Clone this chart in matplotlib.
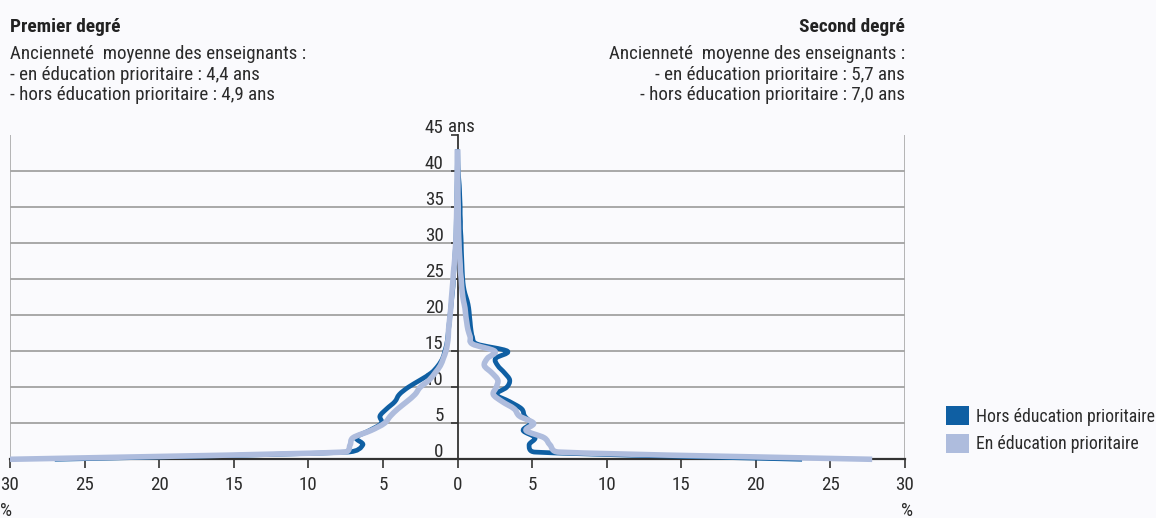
import matplotlib
matplotlib.use("Agg")
import matplotlib.pyplot as plt
from matplotlib import font_manager
from matplotlib.path import Path
from matplotlib.patches import PathPatch, Patch
from matplotlib.ticker import FixedLocator, FuncFormatter
from matplotlib.transforms import ScaledTranslation

# ---------------- data ----------------
years = list(range(0, 44))

# Premier degré (left side), % of teachers by seniority
premier_hors_ep = [27.0, 7.4, 6.35, 6.8, 5.9, 5.1, 5.2, 4.75, 4.2, 3.9, 3.3, 2.5, 1.75, 1.3, 1.0,
                   0.85, 0.72, 0.65, 0.6, 0.55, 0.5, 0.45, 0.4, 0.35, 0.3, 0.28, 0.25, 0.2, 0.18,
                   0.15, 0.12, 0.1, 0.09, 0.08, 0.07, 0.06, 0.05, 0.04, 0.03, 0.02, 0.02, 0.01, 0.01, 0.0]
premier_ep = [30.0, 7.6, 7.2, 7.0, 5.8, 4.9, 4.5, 4.0, 3.4, 2.85, 2.5, 1.9, 1.5, 1.15, 0.95,
              0.78, 0.68, 0.62, 0.6, 0.55, 0.5, 0.45, 0.42, 0.38, 0.34, 0.3, 0.27, 0.22, 0.18,
              0.15, 0.12, 0.1, 0.08, 0.07, 0.06, 0.05, 0.04, 0.03, 0.03, 0.02, 0.02, 0.01, 0.01, 0.0]

# Second degré (right side)
second_hors_ep = [23.1, 5.2, 4.8, 5.2, 4.4, 4.9, 4.5, 4.3, 3.5, 2.6, 3.3, 3.5, 3.15, 2.7, 2.55,
                  3.35, 1.3, 1.0, 0.9, 0.85, 0.8, 0.75, 0.65, 0.5, 0.4, 0.35, 0.32, 0.3, 0.28,
                  0.26, 0.25, 0.23, 0.2, 0.2, 0.18, 0.18, 0.16, 0.14, 0.12, 0.08, 0.05, 0.03, 0.02, 0.01]
second_ep = [27.8, 6.8, 6.2, 5.8, 4.6, 5.1, 4.15, 3.8, 3.0, 2.4, 2.6, 2.7, 2.3, 1.8, 2.0,
             2.5, 1.0, 0.85, 0.7, 0.62, 0.55, 0.5, 0.4, 0.33, 0.28, 0.25, 0.2, 0.18, 0.15,
             0.12, 0.1, 0.08, 0.07, 0.06, 0.05, 0.05, 0.04, 0.03, 0.03, 0.02, 0.02, 0.01, 0.01, 0.0]

x_ticks = [-30, -25, -20, -15, -10, -5, 0, 5, 10, 15, 20, 25, 30]
y_ticks = [0, 5, 10, 15, 20, 25, 30, 35, 40, 45]

series_labels = ["Hors éducation prioritaire", "En éducation prioritaire"]
title_left = "Premier degré"
title_right = "Second degré"
text_left = ["Ancienneté  moyenne des enseignants :",
             "- en éducation prioritaire : 4,4 ans",
             "- hors éducation prioritaire : 4,9 ans"]
text_right = ["Ancienneté  moyenne des enseignants :",
              "- en éducation prioritaire : 5,7 ans",
              "- hors éducation prioritaire : 7,0 ans"]

# ---------------- style ----------------
DARK = "#0f5fa3"
LIGHT = "#aebcdd"
BG = "#fafafd"
TXT = "#2b2b2b"

names = {f.name for f in font_manager.fontManager.ttflist}
fam = None
for cand in ["Liberation Sans Narrow", "Roboto Condensed", "Liberation Sans"]:
    if cand in names:
        fam = cand
        break
plt.rcParams["font.family"] = [fam, "DejaVu Sans"]

W, H = 1156, 518
fig = plt.figure(figsize=(W / 100, H / 100), dpi=100, facecolor=BG)
x0, x1 = 10, 905
y0, y1 = 459.3, 135
ax = fig.add_axes([x0 / W, (H - y0) / H, (x1 - x0) / W, (y0 - y1) / H])
ax.set_facecolor(BG)
ax.set_xlim(-30, 30)
ax.set_ylim(0, 45)

SX = (x1 - x0) / 60.0   # px per x unit (isotropic smoothing space)
SY = (y0 - y1) / 45.0   # px per y unit


def smooth_path(xs, ys, clamp=0.7):
    """Smoothed line (Catmull-Rom style Bezier, control arms limited)."""
    pts = [(x * SX, y * SY) for x, y in zip(xs, ys)]
    n = len(pts)

    def arm(a, b, seg):
        vx, vy = (b[0] - a[0]) / 6.0, (b[1] - a[1]) / 6.0
        L = (vx * vx + vy * vy) ** 0.5
        lim = clamp * seg
        if L > lim and L > 0:
            vx, vy = vx * lim / L, vy * lim / L
        return vx, vy

    verts = [pts[0]]
    codes = [Path.MOVETO]
    for i in range(n - 1):
        p1, p2 = pts[i], pts[i + 1]
        p0 = pts[i - 1] if i > 0 else p1
        p3 = pts[i + 2] if i + 2 < n else p2
        seg = ((p2[0] - p1[0]) ** 2 + (p2[1] - p1[1]) ** 2) ** 0.5
        a1 = arm(p0, p2, seg)
        a2 = arm(p1, p3, seg)
        c1 = (p1[0] + a1[0], p1[1] + a1[1])
        c2 = (p2[0] - a2[0], p2[1] - a2[1])
        verts += [c1, c2, p2]
        codes += [Path.CURVE4] * 3
    verts = [(vx / SX, vy / SY) for vx, vy in verts]
    return Path(verts, codes)


def draw(values, sign, color, lw, z):
    xs = [sign * v for v in values]
    patch = PathPatch(smooth_path(xs, years), facecolor="none", edgecolor=color,
                      lw=lw, capstyle="butt", joinstyle="round", zorder=z,
                      transform=ax.transData, clip_on=False)
    ax.add_patch(patch)


# gridlines and frame
ax.hlines(y_ticks[1:-1], -30, 30, color="#9a9a9a", lw=1.2, zorder=1)
ax.vlines([-30, 30], 0, 45, color="#a8a8a8", lw=1.2, zorder=1)

draw(premier_hors_ep, -1, DARK, 3.4, 3)
draw(second_hors_ep, 1, DARK, 3.4, 3)
draw(premier_ep, -1, LIGHT, 4.0, 4)
draw(second_ep, 1, LIGHT, 4.0, 4)

for s in ["top", "right"]:
    ax.spines[s].set_visible(False)
ax.spines["left"].set_position(("data", 0))
ax.spines["left"].set_bounds(0, 45)
ax.spines["left"].set_color("#333333")
ax.spines["left"].set_linewidth(1.3)
ax.spines["left"].set_zorder(2)
ax.spines["bottom"].set_color("#333333")
ax.spines["bottom"].set_linewidth(1.6)
ax.spines["bottom"].set_zorder(2)

FS = 13.7
ax.xaxis.set_major_locator(FixedLocator(x_ticks))
ax.xaxis.set_major_formatter(FuncFormatter(lambda v, p: f"{abs(int(round(v)))}"))
ax.yaxis.set_major_locator(FixedLocator(y_ticks))
ax.tick_params(axis="x", direction="out", length=6.5, width=1.2, color="#333333",
               labelsize=FS, labelcolor=TXT, pad=5.5)
ax.tick_params(axis="y", direction="out", length=5, width=1.2, color="#333333",
               labelsize=FS, labelcolor=TXT, pad=5)
for lab in ax.get_yticklabels():
    lab.set_transform(lab.get_transform() + ScaledTranslation(0, 6.5 / 72, fig.dpi_scale_trans))

# axis unit labels
fig.text(448 / W, 1 - 132 / H, "ans", fontsize=FS, color=TXT, ha="left", va="baseline")
fig.text(0 / W, 1 - 516 / H, "%", fontsize=FS, color=TXT, ha="left", va="baseline")
fig.text(913 / W, 1 - 516 / H, "%", fontsize=FS, color=TXT, ha="right", va="baseline")

# headers
fig.text(10 / W, 1 - 32 / H, title_left, fontsize=FS + 0.2, fontweight="bold", color="#222222",
         ha="left", va="baseline")
fig.text(905 / W, 1 - 32 / H, title_right, fontsize=FS + 0.2, fontweight="bold", color="#222222",
         ha="right", va="baseline")
for i, (tl, tr) in enumerate(zip(text_left, text_right)):
    yy = 1 - (59 + 20.7 * i) / H
    fig.text(10 / W, yy, tl, fontsize=FS, color=TXT, ha="left", va="baseline")
    fig.text(905 / W, yy, tr, fontsize=FS, color=TXT, ha="right", va="baseline")

# legend
handles = [Patch(facecolor=DARK, edgecolor="none"), Patch(facecolor=LIGHT, edgecolor="none")]
fig.legend(handles, series_labels, loc="upper left", bbox_to_anchor=(941 / W, 1 - 401 / H),
           frameon=False, fontsize=12.8, handlelength=1.25, handleheight=1.25,
           handletextpad=0.42, labelspacing=0.45, borderaxespad=0, borderpad=0.3,
           labelcolor=TXT)

fig.savefig("out.png", dpi=100, facecolor=BG)
